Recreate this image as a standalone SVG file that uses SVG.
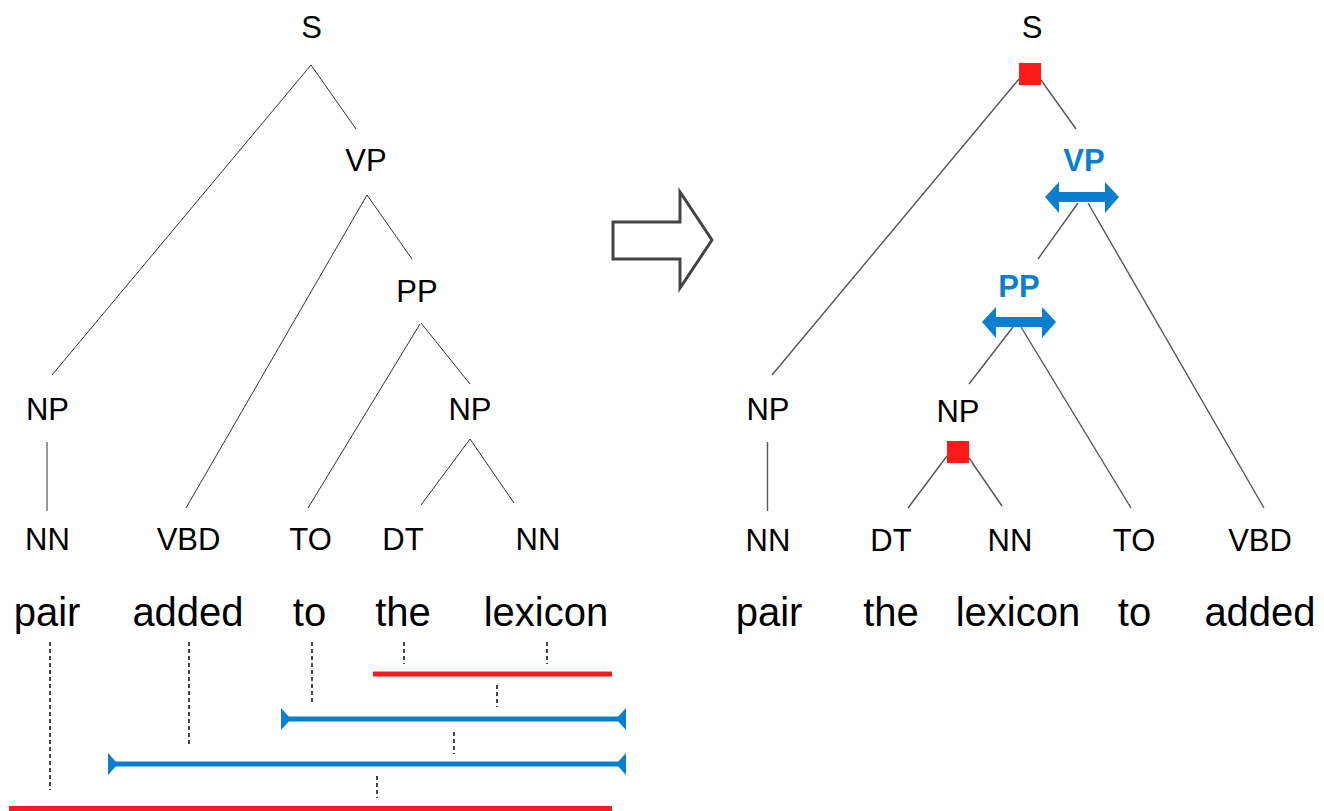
<svg xmlns="http://www.w3.org/2000/svg" width="1324" height="811" viewBox="0 0 1324 811">
<style>
.lbl{font-family:"Liberation Sans",Arial,sans-serif;font-size:31px;fill:#000;text-anchor:middle}
.word{font-family:"Liberation Sans",Arial,sans-serif;font-size:40px;fill:#000;text-anchor:middle}
.blbl{font-family:"Liberation Sans",Arial,sans-serif;font-size:31px;font-weight:bold;fill:#0a7fd0;text-anchor:middle}
.e1{stroke:#333;stroke-width:1;fill:none}
.e2{stroke:#555;stroke-width:1.4;fill:none}
.dash{stroke:#444;stroke-width:2;stroke-dasharray:4 3;fill:none}
.red{fill:#ff1a1a}
.blue{fill:#0a7fd0}
</style>
<rect width="1324" height="811" fill="#fff"/>

<!-- Left tree connectors -->
<g id="left-edges">
<line class="e1" x1="311" y1="65" x2="52" y2="375"/>
<line class="e1" x1="311" y1="65" x2="356" y2="129"/>
<line class="e1" x1="367" y1="195" x2="186" y2="508"/>
<line class="e1" x1="367" y1="195" x2="412" y2="259"/>
<line class="e1" x1="420" y1="324" x2="308" y2="508"/>
<line class="e1" x1="421" y1="323" x2="470" y2="384"/>
<line class="e1" x1="470" y1="439" x2="421" y2="505"/>
<line class="e1" x1="470" y1="439" x2="514" y2="503"/>
<line class="e1" x1="47" y1="442" x2="47" y2="511"/>
</g>

<!-- Left tree nodes -->
<g id="L-S"><text class="lbl" x="311.5" y="38">S</text></g>
<g id="L-VP"><text class="lbl" x="366" y="171">VP</text></g>
<g id="L-PP"><text class="lbl" x="417" y="302">PP</text></g>
<g id="L-NP1"><text class="lbl" x="47.5" y="420">NP</text></g>
<g id="L-NP2"><text class="lbl" x="470" y="420">NP</text></g>
<g id="L-NN1"><text class="lbl" x="47.5" y="550">NN</text></g>
<g id="L-VBD"><text class="lbl" x="188.5" y="550">VBD</text></g>
<g id="L-TO"><text class="lbl" x="310.5" y="550">TO</text></g>
<g id="L-DT"><text class="lbl" x="403" y="550">DT</text></g>
<g id="L-NN2"><text class="lbl" x="538" y="550">NN</text></g>
<g id="L-words">
<text class="word" x="47" y="626">pair</text>
<text class="word" x="188" y="626">added</text>
<text class="word" x="309.5" y="626">to</text>
<text class="word" x="403" y="626">the</text>
<text class="word" x="546" y="626">lexicon</text>
</g>

<!-- Span bars -->
<g id="spans">
<line class="dash" x1="50" y1="642" x2="50" y2="790"/>
<line class="dash" x1="189" y1="642" x2="189" y2="746"/>
<line class="dash" x1="312" y1="642" x2="312" y2="702"/>
<line class="dash" x1="404" y1="642" x2="404" y2="664"/>
<line class="dash" x1="547" y1="642" x2="547" y2="664"/>
<rect class="red" x="373" y="671.5" width="239" height="5"/>
<line class="dash" x1="497" y1="685" x2="497" y2="707"/>
<rect class="blue" x="285" y="716.5" width="338" height="5"/>
<polygon class="blue" points="281,708 281,730 291,719"/>
<polygon class="blue" points="626,708 626,730 616,719"/>
<line class="dash" x1="454" y1="732" x2="454" y2="754"/>
<rect class="blue" x="112" y="761.5" width="511" height="5"/>
<polygon class="blue" points="108,753 108,775 118,764"/>
<polygon class="blue" points="626,753 626,775 616,764"/>
<line class="dash" x1="377" y1="776" x2="377" y2="798"/>
<rect class="red" x="9" y="806" width="603" height="6"/>
</g>

<!-- Transform arrow -->
<g id="arrow">
<polygon points="613,222 680,222 680,192 712,240 680,288 680,259 613,259" fill="#fff" stroke="#444" stroke-width="3" stroke-linejoin="miter"/>
</g>

<!-- Right tree connectors -->
<g id="right-edges">
<line class="e2" x1="1019" y1="79" x2="772" y2="375"/>
<line class="e2" x1="1041" y1="80" x2="1076" y2="129"/>
<line class="e2" x1="1078" y1="203" x2="1038" y2="259"/>
<line class="e2" x1="1088" y1="203" x2="1264" y2="508"/>
<line class="e2" x1="1013" y1="327" x2="969" y2="384"/>
<line class="e2" x1="1021" y1="327" x2="1131" y2="508"/>
<line class="e2" x1="947" y1="456" x2="908" y2="508"/>
<line class="e2" x1="969" y1="458" x2="1002" y2="506"/>
<line class="e2" x1="767.5" y1="442" x2="767.5" y2="511"/>
</g>

<!-- Right tree nodes -->
<g id="R-S">
<text class="lbl" x="1032" y="38">S</text>
<rect class="red" x="1019" y="63" width="22" height="22"/>
</g>
<g id="R-VP">
<text class="blbl" x="1084" y="171">VP</text>
<polygon class="blue" points="1045,197 1059,182 1059,192 1105,192 1105,182 1119,197 1105,213 1105,202 1059,202 1059,213"/>
</g>
<g id="R-PP">
<text class="blbl" x="1019" y="297">PP</text>
<polygon class="blue" points="982,322 996,307 996,317 1042,317 1042,307 1056,322 1042,338 1042,327 996,327 996,338"/>
</g>
<g id="R-NP1"><text class="lbl" x="768" y="420">NP</text></g>
<g id="R-NP2">
<text class="lbl" x="958" y="422">NP</text>
<rect class="red" x="947" y="441" width="22" height="22"/>
</g>
<g id="R-NN1"><text class="lbl" x="768" y="551">NN</text></g>
<g id="R-DT"><text class="lbl" x="891" y="551">DT</text></g>
<g id="R-NN2"><text class="lbl" x="1010" y="551">NN</text></g>
<g id="R-TO"><text class="lbl" x="1134" y="551">TO</text></g>
<g id="R-VBD"><text class="lbl" x="1260" y="551">VBD</text></g>
<g id="R-words">
<text class="word" x="769" y="626">pair</text>
<text class="word" x="891" y="626">the</text>
<text class="word" x="1018" y="626">lexicon</text>
<text class="word" x="1134.5" y="626">to</text>
<text class="word" x="1260" y="626">added</text>
</g>
</svg>
